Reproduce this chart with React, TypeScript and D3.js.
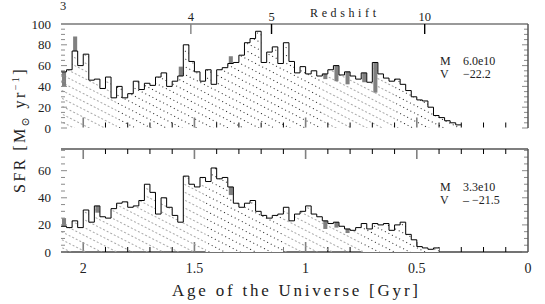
import React from 'react'
import * as d3 from 'd3'

const width = 545
const height = 304

// histogram bins, in Gyr, counted from the left edge of the plot
const ageStart = 2.1
const binWidth = 0.025

// upper panel: M 6.0e10, V -22.2
const topSfr = [
  54, 56, 74, 60, 71, 46, 47, 38, 49, 29, 40, 29, 33, 45, 37, 43, 41, 49, 53, 40,
  45, 50, 80, 64, 54, 45, 56, 42, 56, 58, 62, 63, 70, 82, 86, 93, 63, 73, 78, 62,
  82, 64, 53, 59, 52, 55, 50, 52, 56, 60, 51, 54, 50, 47, 53, 44, 63, 52, 48, 45,
  47, 42, 36, 30, 27, 26, 20, 12, 10, 7, 5, 3,
]
// [bin, other end of the grey bar]
const topGrey = [[0, 40], [2, 88], [21, 59], [30, 69], [47, 47], [49, 45], [51, 42], [54, 44], [56, 34]]

// lower panel: M 3.3e10, V -21.5
const botSfr = [
  19, 18, 23, 18, 31, 22, 34, 26, 25, 32, 36, 37, 33, 34, 38, 50, 44, 28, 40, 33,
  27, 22, 56, 50, 48, 55, 52, 62, 54, 55, 48, 36, 33, 36, 38, 30, 27, 25, 27, 28,
  33, 23, 28, 30, 34, 28, 26, 23, 21, 22, 19, 17, 16, 18, 21, 17, 21, 20, 21, 16,
  20, 22, 13, 9, 4, 3, 2, 3,
]
const botGrey = [[0, 25], [6, 29], [30, 42], [47, 17], [49, 18], [51, 14]]

const ageMajor = [2, 1.5, 1, 0.5, 0]
const ageLabels = ['2', '1.5', '1', '0.5', '0']
const ageMinor = d3.range(0.1, 2.1, 0.1)
const redshiftTicks = [3, 4, 5, 10]
const T0 = 16.95 // Gyr, age(z) = T0 (1+z)^-1.5

const topYTicks = [0, 20, 40, 60, 80, 100]
const botYTicks = [0, 20, 40, 60]

// where the hatching is black dots instead of grey dashes
const topDotRanges = [[1.85, 0.93], [0.6, 0]]
const botDotRanges = [[1.45, 1.1], [0.75, 0]]

const x = d3.scaleLinear().domain([ageStart, 0]).range([61, 528])
const left = 61
const right = 528

const serif = '"Liberation Serif", "DejaVu Serif", serif'

type PanelProps = {
  id: string
  sfr: number[]
  grey: number[][]
  dots: number[][]
  y: d3.ScaleLinear<number, number>
  yTicks: number[]
  yMax: number
  mass: string
  mag: string
  labelY: number
}

function Panel({ id, sfr, grey, dots, y, yTicks, yMax, mass, mag, labelY }: PanelProps) {
  const pts: [number, number][] = sfr.map((v, i) => [ageStart - i * binWidth, v])
  pts.push([ageStart - sfr.length * binWidth, sfr[sfr.length - 1]])

  const area = d3.area<[number, number]>()
    .x(d => x(d[0]))
    .y0(y(0))
    .y1(d => y(d[1]))
    .curve(d3.curveStepAfter)
  const line = d3.line<[number, number]>()
    .x(d => x(d[0]))
    .y(d => y(d[1]))
    .curve(d3.curveStepAfter)

  const y0 = y(0)
  const yTop = y(yMax)
  const minorY = d3.range(0, yMax, 5)

  return (
    <g>
      <clipPath id={'clip-' + id}>
        <path d={area(pts) || ''} />
      </clipPath>
      <g clipPath={`url(#clip-${id})`}>
        <rect x={left} y={yTop} width={right - left} height={y0 - yTop} fill="url(#hatchGrey)" />
        {dots.map(([a0, a1], i) => (
          <rect key={i} x={x(a0)} y={yTop} width={x(a1) - x(a0)} height={y0 - yTop} fill="white" />
        ))}
        {dots.map(([a0, a1], i) => (
          <rect key={'d' + i} x={x(a0)} y={yTop} width={x(a1) - x(a0)} height={y0 - yTop} fill="url(#hatchDot)" />
        ))}
      </g>

      {grey.map(([bin, other]) => {
        const xa = x(ageStart - bin * binWidth)
        const xb = x(ageStart - (bin + 1) * binWidth)
        const v = sfr[bin]
        return (
          <rect key={bin} x={xa + 1} width={xb - xa - 1.5}
            y={y(Math.max(v, other))} height={Math.abs(y(v) - y(other))} fill="#808080" />
        )
      })}
      <path d={line(pts) || ''} fill="none" stroke="#000" strokeWidth={1} />

      {/* y ticks, both sides */}
      {minorY.map(v => (
        <g key={v} stroke="#8a8a8a" strokeWidth={1}>
          <line x1={left} x2={left + (v % 20 === 0 ? 6 : 4)} y1={y(v)} y2={y(v)} />
          <line x1={right} x2={right - (v % 20 === 0 ? 6 : 4)} y1={y(v)} y2={y(v)} />
        </g>
      ))}
      {yTicks.map(v => (
        <text key={v} x={51} y={y(v)} dy="0.35em" textAnchor="end" fontSize={13} fontFamily={serif} fill="#222">{v}</text>
      ))}

      <line x1={right} x2={right} y1={yTop} y2={y0} stroke="#555" strokeWidth={1.5} />

      <text x={440} y={labelY} fontSize={12} fontFamily={serif} fill="#222">
        <tspan>M</tspan>
        <tspan x={463}>{mass}</tspan>
      </text>
      <text x={440} y={labelY + 13} fontSize={12} fontFamily={serif} fill="#222">
        <tspan>V</tspan>
        <tspan x={463}>{mag}</tspan>
      </text>
    </g>
  )
}

function AgeTicks({ yBase, dir }: { yBase: number; dir: number }) {
  return (
    <g>
      {ageMinor.filter(a => Math.abs(a * 2 - Math.round(a * 2)) > 0.01).map(a => (
        <line key={a} x1={x(a)} x2={x(a)} y1={yBase} y2={yBase + dir * 5} stroke="#000" strokeWidth={1} />
      ))}
      {ageMajor.filter(a => a > 0).map(a => (
        <line key={'M' + a} x1={x(a)} x2={x(a)} y1={yBase} y2={yBase + dir * 10} stroke="#808080" strokeWidth={1.6} />
      ))}
    </g>
  )
}

export default function App() {
  const yTop = d3.scaleLinear().domain([0, 100]).range([128, 24])
  const yBot = d3.scaleLinear().domain([0, 76]).range([252, 149])

  return (
    <svg width={width} height={height} style={{ position: 'absolute', left: 0, top: 0, background: '#fff' }}>
      <defs>
        <pattern id="hatchGrey" width={8} height={7} patternUnits="userSpaceOnUse" patternTransform="rotate(27)">
          <line x1={0} x2={8} y1={3.5} y2={3.5} stroke="#a8a8a8" strokeWidth={1} strokeDasharray="2 2" />
        </pattern>
        <pattern id="hatchDot" width={8} height={7} patternUnits="userSpaceOnUse" patternTransform="rotate(27)">
          <line x1={0} x2={8} y1={3.5} y2={3.5} stroke="#222" strokeWidth={1} strokeDasharray="1 3" />
        </pattern>
      </defs>
      <rect width={width} height={height} fill="#fff" />

      {/* upper panel */}
      <line x1={left} x2={right} y1={24} y2={24} stroke="#777" strokeWidth={1.6} />
      {redshiftTicks.map(z => {
        const a = Math.min(T0 * Math.pow(1 + z, -1.5), ageStart)
        return (
          <g key={z}>
            {z > 3 && <line x1={x(a)} x2={x(a)} y1={24} y2={34} stroke={z === 4 ? '#808080' : '#000'} strokeWidth={1.4} />}
            <text x={Math.max(x(a), 63)} y={10} dy={z === 3 ? 0 : 11} textAnchor="middle" fontSize={12.5} fontFamily={serif} fill="#222">{z}</text>
          </g>
        )
      })}
      <text x={343} y={17} textAnchor="middle" fontSize={12} fontFamily={serif} textLength={66} lengthAdjust="spacing" fill="#222">Redshift</text>
      <Panel id="top" sfr={topSfr} grey={topGrey} dots={topDotRanges} y={yTop} yTicks={topYTicks} yMax={100}
        mass="6.0e10" mag="−22.2" labelY={65} />
      <AgeTicks yBase={127.5} dir={-1} />

      {/* lower panel */}
      <line x1={left} x2={right} y1={149} y2={149} stroke="#555" strokeWidth={1.5} />
      <line x1={left} x2={right} y1={252} y2={252} stroke="#444" strokeWidth={1.5} />
      <AgeTicks yBase={149} dir={1} />
      <AgeTicks yBase={252} dir={-1} />
      <Panel id="bot" sfr={botSfr} grey={botGrey} dots={botDotRanges} y={yBot} yTicks={botYTicks} yMax={76}
        mass="3.3e10" mag="– −21.5" labelY={191} />

      {ageMajor.map((a, i) => (
        <text key={a} x={x(a)} y={273} textAnchor="middle" fontSize={14} fontFamily={serif} fill="#222">{ageLabels[i]}</text>
      ))}
      <text x={295} y={296} textAnchor="middle" fontSize={17} fontFamily={serif} textLength={246} lengthAdjust="spacing" fill="#222">
        Age of the Universe [Gyr]
      </text>

      <text transform="translate(25,130) rotate(-90)" textAnchor="middle" fontSize={16} fontFamily={serif} letterSpacing={2.4} fill="#222">
        SFR [M<tspan fontSize={11} dy={4}>⊙</tspan><tspan dy={-4}> yr</tspan><tspan fontSize={10} dy={-6}>−1</tspan><tspan dy={6}>]</tspan>
      </text>
    </svg>
  )
}
